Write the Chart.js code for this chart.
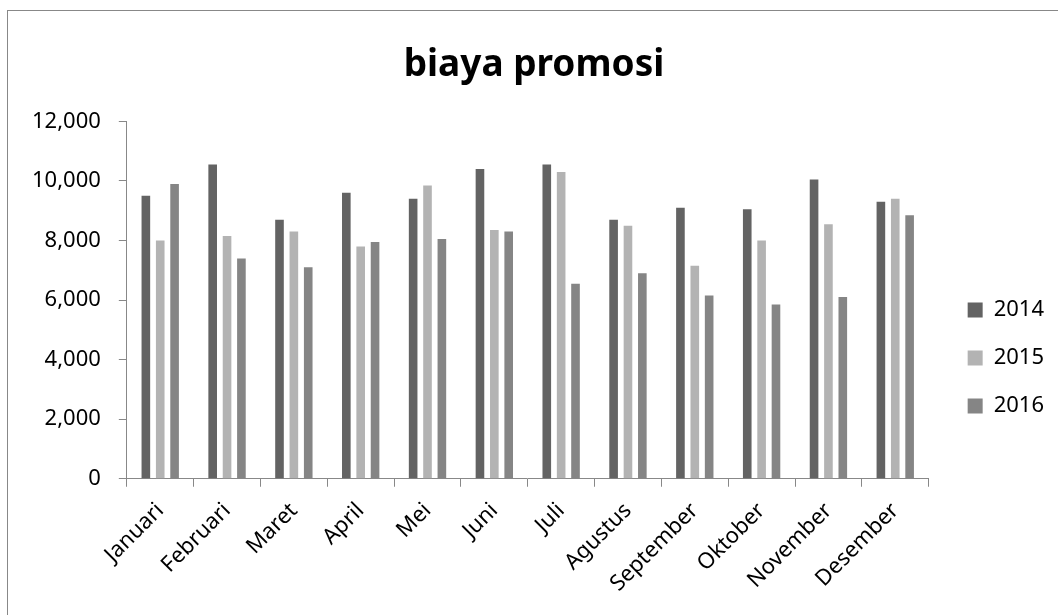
<!DOCTYPE html>
<html>
<head>
<meta charset="utf-8">
<script src="https://cdn.jsdelivr.net/npm/chart.js@4"></script>
<style>
    body { margin: 0; background: #fff; overflow: hidden; }
    .wrap { position: relative; width: 1058px; height: 615px; overflow: hidden; }
    .frame { position: absolute; left: 7px; top: 10px; width: 1070px; height: 640px; border: 1px solid #888; }
    canvas { position: absolute; left: 0; top: 0; }
</style>
</head>
<body>
<div class="wrap">
    <div class="frame"></div>
    <canvas id="promosi_chart" width="1058" height="615"></canvas>
</div>
<script>
// data biaya promosi per bulan
const bulan = ['Januari', 'Februari', 'Maret', 'April', 'Mei', 'Juni', 'Juli', 'Agustus', 'September', 'Oktober', 'November', 'Desember'];
const tahun = ['2014', '2015', '2016'];
const biaya2014 = [9500, 10550, 8700, 9600, 9400, 10400, 10550, 8700, 9100, 9050, 10050, 9300];
const biaya2015 = [8000, 8150, 8300, 7800, 9850, 8350, 10300, 8500, 7150, 8000, 8550, 9400];
const biaya2016 = [9900, 7400, 7100, 7950, 8050, 8300, 6550, 6900, 6150, 5850, 6100, 8850];
const warna = ['#636363', '#b3b3b3', '#858585'];

const fontName = "'Noto Sans', 'Open Sans', sans-serif";
const axisColor = '#888888';

const datasets = [biaya2014, biaya2015, biaya2016].map((data, i) => ({
    label: tahun[i],
    data: data,
    backgroundColor: warna[i],
    categoryPercentage: 0.645,
    barPercentage: 0.6
}));

new Chart(document.getElementById('promosi_chart'), {
    type: 'bar',
    data: {
        labels: bulan,
        datasets: datasets
    },
    options: {
        responsive: false,
        devicePixelRatio: 1,
        animation: false,
        layout: {
            padding: { left: 14, right: 4, top: 10, bottom: 7 }
        },
        scales: {
            x: {
                grid: {
                    offset: true,
                    drawOnChartArea: false,
                    tickLength: 8,
                    color: axisColor
                },
                border: { color: axisColor, width: 1 },
                ticks: {
                    minRotation: 45,
                    maxRotation: 45,
                    color: '#000',
                    padding: 11,
                    font: { family: fontName, size: 22 }
                },
                // label miring tidak perlu menggeser area plot
                afterFit: s => { s.paddingLeft = 0; s.paddingRight = 0; }
            },
            y: {
                min: 0,
                max: 12000,
                grid: {
                    drawOnChartArea: false,
                    tickLength: 8,
                    color: axisColor
                },
                border: { color: axisColor, width: 1 },
                ticks: {
                    stepSize: 2000,
                    color: '#000',
                    padding: 18,
                    font: { family: fontName, size: 22 },
                    callback: v => v.toLocaleString('en-US')
                }
            },
            // jarak kosong antara plot dan legenda
            jarak: {
                type: 'linear',
                position: 'right',
                display: true,
                grid: { display: false },
                border: { display: false },
                ticks: { display: false },
                afterFit: s => { s.width = 13; }
            }
        },
        plugins: {
            title: {
                display: true,
                text: 'biaya promosi',
                color: '#000',
                font: { family: fontName, size: 37, weight: 'bold' },
                padding: { top: 33, bottom: 34 }
            },
            legend: {
                position: 'right',
                // judul kosong hanya untuk menurunkan posisi legenda
                title: {
                    display: true,
                    text: ' ',
                    color: 'rgba(0,0,0,0)',
                    font: { size: 10 },
                    padding: { top: 86, bottom: 0 }
                },
                labels: {
                    boxWidth: 15,
                    boxHeight: 15,
                    padding: 26,
                    color: '#000',
                    font: { family: fontName, size: 22 }
                }
            },
            tooltip: { enabled: false }
        }
    }
});
</script>
</body>
</html>
